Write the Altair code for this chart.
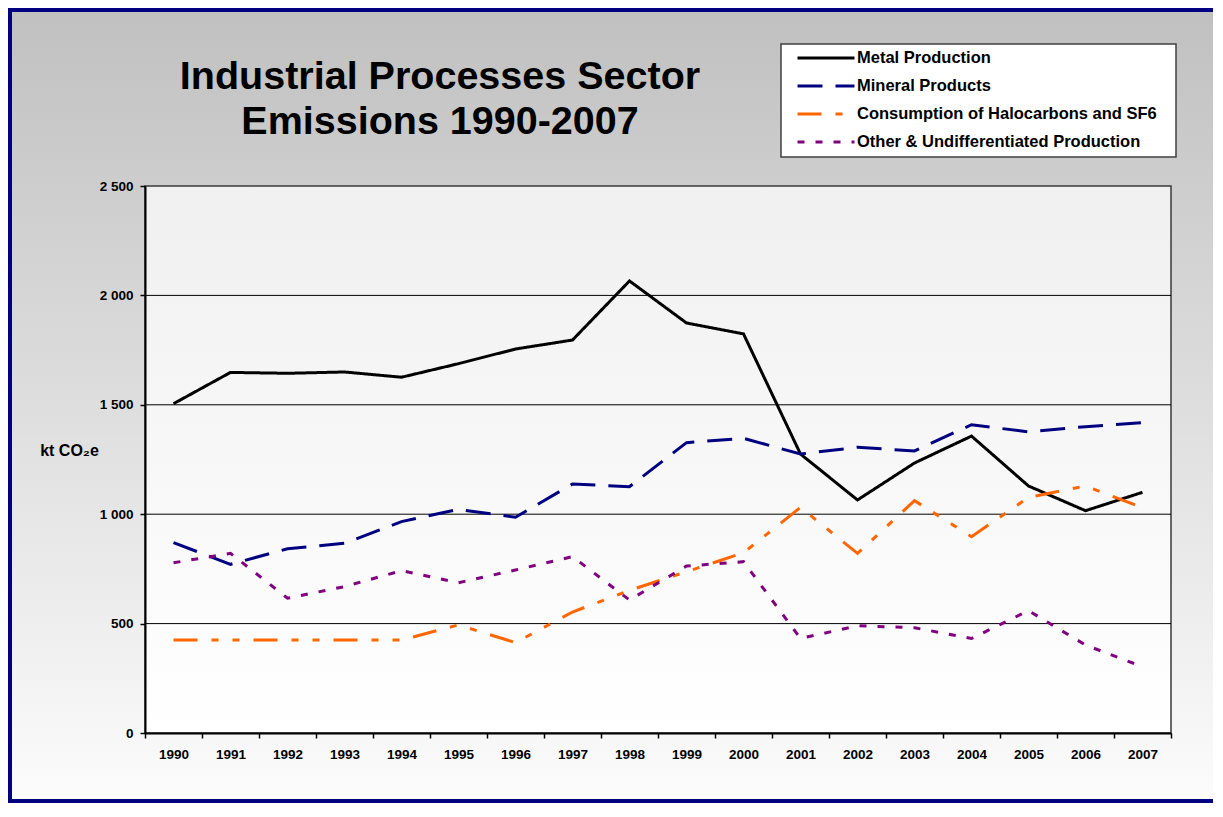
import altair as alt
import pandas as pd

YEARS = [str(y) for y in range(1990, 2008)]
SERIES = [
    "Metal Production",
    "Mineral Products",
    "Consumption of Halocarbons and SF6",
    "Other & Undifferentiated Production",
]
METAL = [1505, 1648, 1644, 1650, 1626, 1688, 1755, 1796, 2066, 1874, 1824, 1275, 1065, 1234, 1357, 1129, 1016, 1100]
MINERAL = [870, 771, 842, 867, 966, 1022, 986, 1138, 1126, 1327, 1347, 1275, 1306, 1289, 1409, 1376, 1400, 1418]
HALO = [425, 425, 425, 425, 425, 494, 413, 553, 652, 737, 824, 1031, 821, 1062, 897, 1077, 1129, 1030]
OTHER = [778, 821, 616, 669, 742, 687, 745, 806, 608, 763, 783, 432, 490, 481, 432, 559, 402, 303]

COLORS = ["#000000", "#000080", "#FF6600", "#800080"]
DASHES = [[1, 0], [25, 13], [24, 14, 7, 14, 7, 14], [7, 11]]
Y_TICKS = [0, 500, 1000, 1500, 2000, 2500]
GRID = [500, 1000, 1500, 2000]
TITLE_LINES = ["Industrial Processes Sector", "Emissions 1990-2007"]
Y_TITLE = "kt CO\u2082e"

rows = []
for name, vals in zip(SERIES, [METAL, MINERAL, HALO, OTHER]):
    for yr, v in zip(YEARS, vals):
        rows.append({"year": yr, "series": name, "value": v})
df = pd.DataFrame(rows)

W, H = 1026, 547
FONT = "Liberation Sans"
ONE = alt.Data(values=[{}])

x_enc = alt.X(
    "year:O",
    scale=alt.Scale(type="band", paddingInner=0, paddingOuter=0, domain=YEARS),
    axis=alt.Axis(
        title=None, labelAngle=0, tickBand="extent", labelFont=FONT,
        labelFontSize=13.5, labelFontWeight="bold", labelColor="black",
        labelPadding=9, tickSize=5, tickColor="black", tickWidth=1.5,
        domainColor="black", domainWidth=2, grid=False, zindex=1,
    ),
)
y_enc = alt.Y(
    "value:Q",
    scale=alt.Scale(domain=[0, 2500], nice=False),
    axis=alt.Axis(
        title=Y_TITLE, titleAngle=0, titleX=-76, titleY=264, titleAlign="center",
        titleBaseline="middle", titleFont=FONT, titleFontSize=16,
        titleFontWeight="bold", titleColor="black", values=Y_TICKS,
        labelExpr="replace(format(datum.value, ','), ',', ' ')",
        labelFont=FONT, labelFontSize=13.5, labelFontWeight="bold",
        labelColor="black", labelPadding=7, tickSize=5, tickColor="black",
        tickWidth=1.5, domainColor="black", domainWidth=2, grid=False, zindex=1,
    ),
)

outer_grad = alt.Gradient(
    gradient="linear",
    stops=[alt.GradientStop(color="#c0c0c0", offset=0), alt.GradientStop(color="#fcfcfc", offset=1)],
    x1=0, x2=0, y1=0, y2=1,
)
plot_grad = alt.Gradient(
    gradient="linear",
    stops=[alt.GradientStop(color="#f0f0f0", offset=0), alt.GradientStop(color="#ffffff", offset=1)],
    x1=0, x2=0, y1=0, y2=1,
)

L, R, T, B = -137, 1068, -178, 617
BW = 4
NAVY = "#000080"

bg = alt.Chart(ONE).mark_rect(fill=outer_grad, strokeWidth=0).encode(
    x=alt.value(L), x2=alt.value(R), y=alt.value(T), y2=alt.value(B)
)
border_left = alt.Chart(ONE).mark_rect(fill=NAVY, strokeWidth=0).encode(
    x=alt.value(L), x2=alt.value(L + BW), y=alt.value(T), y2=alt.value(B)
)
border_top = alt.Chart(ONE).mark_rect(fill=NAVY, strokeWidth=0).encode(
    x=alt.value(L), x2=alt.value(R), y=alt.value(T), y2=alt.value(T + BW)
)
border_bottom = alt.Chart(ONE).mark_rect(fill=NAVY, strokeWidth=0).encode(
    x=alt.value(L), x2=alt.value(R), y=alt.value(B - BW), y2=alt.value(B)
)
legend_box = alt.Chart(ONE).mark_rect(fill="white", stroke="#404040", strokeWidth=1.5).encode(
    x=alt.value(636), x2=alt.value(1031), y=alt.value(-142), y2=alt.value(-29)
)
plot_rect = alt.Chart(ONE).mark_rect(fill=plot_grad, stroke="#3a3a3a", strokeWidth=1.5).encode(
    x=alt.value(0), x2=alt.value(W), y=alt.value(0), y2=alt.value(H)
)
grid = alt.Chart(pd.DataFrame({"value": GRID})).mark_rule(color="black", strokeWidth=1).encode(y=y_enc)

leg = alt.Legend(
    title=None, orient="none", legendX=651, legendY=-138, padding=0,
    symbolType="stroke", symbolSize=3249, symbolStrokeWidth=3, clipHeight=20,
    rowPadding=8, labelFontSize=16.5, labelFont=FONT, labelFontWeight="bold",
    labelColor="black", labelOffset=1, labelLimit=500,
)
lines = alt.Chart(df).mark_line(strokeWidth=3).encode(
    x=x_enc,
    y=y_enc,
    color=alt.Color("series:N", scale=alt.Scale(domain=SERIES, range=COLORS), legend=leg),
    strokeDash=alt.StrokeDash("series:N", scale=alt.Scale(domain=SERIES, range=DASHES), legend=leg),
)
title = alt.Chart(ONE).mark_text(
    text=TITLE_LINES, font=FONT, fontSize=39.5, fontWeight="bold", align="center",
    baseline="alphabetic", lineHeight=45, color="black",
).encode(x=alt.value(295), y=alt.value(-97))

chart = (
    alt.layer(bg, border_left, border_top, border_bottom, legend_box, plot_rect, grid, lines, title)
    .properties(width=W, height=H, padding=0)
    .configure_view(strokeWidth=0)
)
chart.save("out.html", embed_options={"renderer": "svg", "actions": False})
